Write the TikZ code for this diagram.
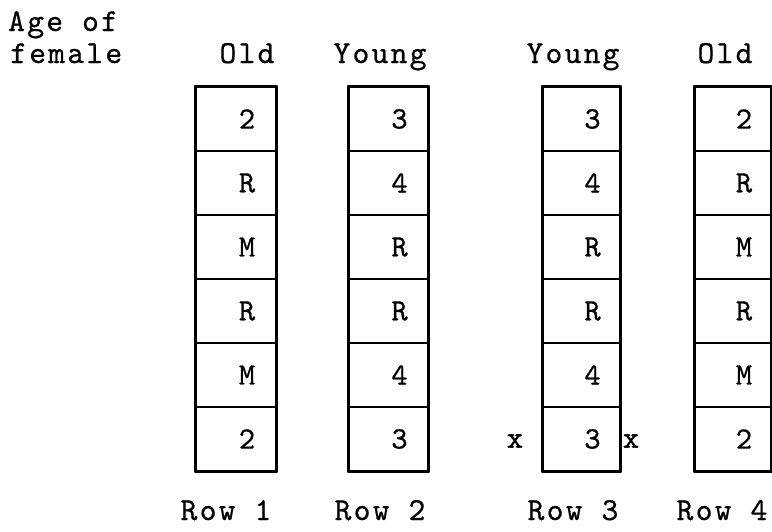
\documentclass[tikz,border=0pt]{standalone}
\usepackage{fontspec}
% typewriter-style face used for every label
\newfontfamily\tw[LetterSpace=7,FakeBold=0.6]{lmmono10-regular.otf}
\newfontfamily\twb[LetterSpace=7,FakeBold=1.6]{lmmono10-regular.otf}
\begin{document}
\begin{tikzpicture}[x=1pt,y=-1pt,
  txt/.style={font=\tw\fontsize{32}{36}\selectfont,inner sep=0pt},
  cell/.style={draw,line width=1.2pt,minimum height=64pt,inner sep=0pt,
    font=\tw\fontsize{31}{36}\selectfont},
  frame/.style={line width=2pt,line join=round}]
\useasboundingbox (0,0) rectangle (772,531);

% heading on the left
\node[txt,anchor=base west] (age) at (8,31) {Age of};
\node[txt,anchor=base west] (fem) at (10,63) {female};

% column headings
\node[txt,anchor=base] (h1) at (247,63) {Old};
\node[txt,anchor=base] (h2) at (380,63) {Young};
\node[txt,anchor=base] (h3) at (573,63) {Young};
\node[txt,anchor=base] (h4) at (725,63) {Old};

% row labels under the columns
\node[txt,anchor=base] (r1) at (226,520) {Row 1};
\node[txt,anchor=base] (r2) at (380,520) {Row 2};
\node[txt,anchor=base] (r3) at (573,520) {Row 3};
\node[txt,anchor=base] (r4) at (722,520) {Row 4};

% the four columns of six cells each
\foreach \c/\x/\w/\lst in {1/236/80/{2,R,M,R,M,2},2/388.5/79/{3,4,R,R,4,3},
                            3/581.5/77/{3,4,R,R,4,3},4/733/76/{2,R,M,R,M,2}}{
  \foreach \t [count=\r] in \lst {
    \node[cell,minimum width=\w pt] (c\c r\r) at (\x,{87+64*(\r-0.5)}) {\hspace*{22pt}\t};
  }
  \draw[frame] (c\c r1.north west) rectangle (c\c r6.south east);
}

% crosses beside the bottom cell of the third column
\node[inner sep=0pt,font=\twb\fontsize{31}{36}\selectfont] (xl) at (515,441) {x};
\node[inner sep=0pt,font=\twb\fontsize{31}{36}\selectfont] (xr) at (631,441) {x};
\end{tikzpicture}
\end{document}
